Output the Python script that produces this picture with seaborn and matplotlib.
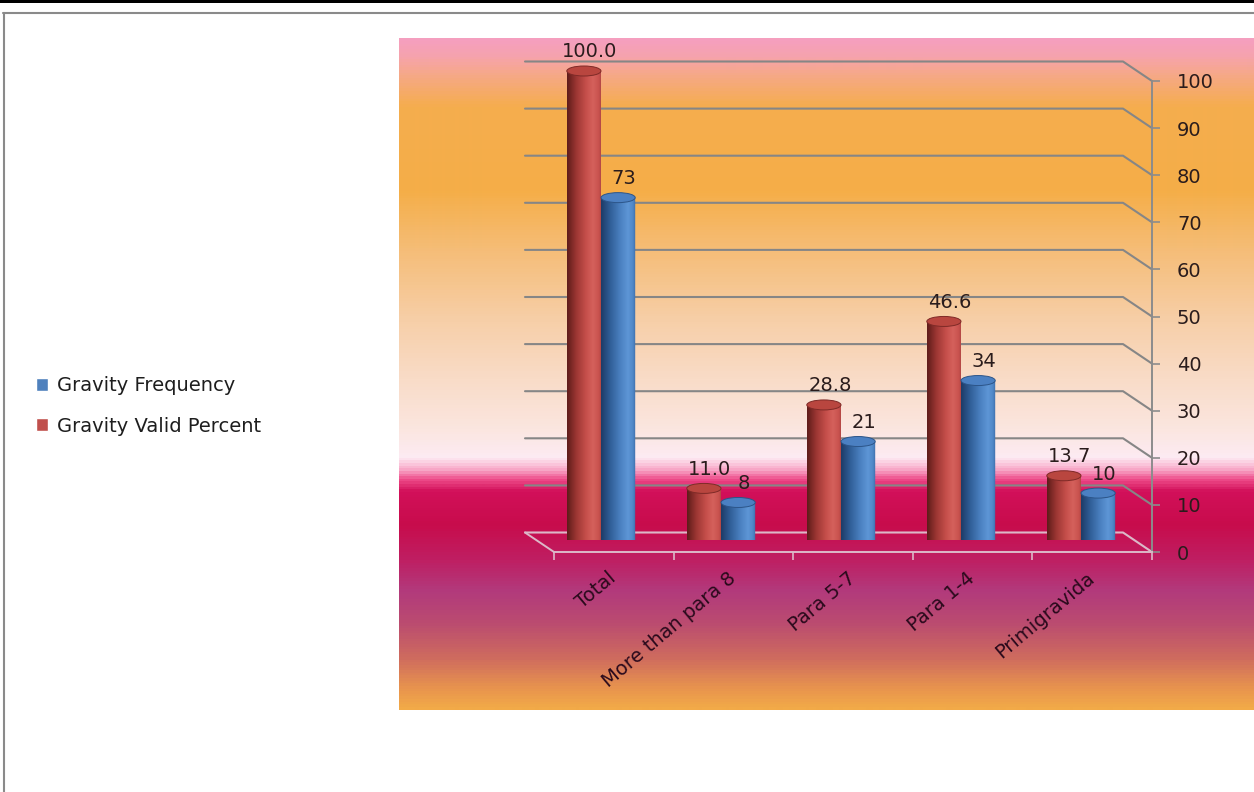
import matplotlib
matplotlib.use("Agg")
import numpy as np
import pandas as pd
import matplotlib.pyplot as plt
import seaborn as sns
from matplotlib.colors import LinearSegmentedColormap
from matplotlib.patches import Ellipse, PathPatch, Patch, Rectangle
from matplotlib.path import Path
from matplotlib.lines import Line2D

# ---- data ----
categories = ["Total", "More than para 8", "Para 5-7", "Para 1-4", "Primigravida"]
valid_percent = [100.0, 11.0, 28.8, 46.6, 13.7]
frequency = [73, 8, 21, 34, 10]
series = ["Gravity Valid Percent", "Gravity Frequency"]
legend_order = ["Gravity Frequency", "Gravity Valid Percent"]
y_ticks = [0, 10, 20, 30, 40, 50, 60, 70, 80, 90, 100]

RED = "#c0504d"
BLUE = "#4f81bd"
TEXT = "#2a1c1c"

sns.set_theme(style="white")
plt.rcParams["font.family"] = ["DejaVu Sans"]

W, H = 1254, 792
fig = plt.figure(figsize=(W / 100, H / 100), dpi=100)
fig.patch.set_facecolor("white")


def box(x0, y0, x1, y1, z):
    """Axes placed by pixel box (y measured from the top)."""
    ax = fig.add_axes([x0 / W, 1 - y1 / H, (x1 - x0) / W, (y1 - y0) / H])
    ax.set_zorder(z)
    ax.patch.set_alpha(0)
    return ax


# ---- page frame ----
fig.add_artist(Rectangle((0, 1 - 3 / H), 1, 3 / H, transform=fig.transFigure,
                         color="black", lw=0))
fig.add_artist(Line2D([3 / W, 1], [1 - 12.5 / H] * 2, transform=fig.transFigure,
                      color="#8a8a8a", lw=1.5))
fig.add_artist(Line2D([3.5 / W] * 2, [0, 1 - 12.5 / H], transform=fig.transFigure,
                      color="#8a8a8a", lw=1.5))

# ---- gradient plot area ----
bg = box(399, 38, 1254, 710, 0)
stops = [
    (38, "#f59fbf"), (54, "#f6a3ae"), (72, "#f6a88a"), (105, "#f5ad4e"),
    (190, "#f5ae48"), (250, "#f5bd78"), (320, "#f7cfa8"), (380, "#f9dcc8"),
    (430, "#fbe6e0"), (458, "#fdebf3"), (470, "#f8a8c8"), (480, "#ee4c8a"),
    (492, "#d2105a"), (525, "#c80c4c"), (560, "#bf1e62"), (592, "#b23a7c"),
    (625, "#bb4c70"), (660, "#cf6c5e"), (690, "#e8944e"), (710, "#f2aa48"),
]
panel_cmap = LinearSegmentedColormap.from_list(
    "panel", [((y - 38) / 672, c) for y, c in stops])
bg.imshow(np.linspace(0, 1, 672)[:, None], aspect="auto", cmap=panel_cmap,
          interpolation="bilinear")
bg.axis("off")

# ---- back wall with gridlines ----
wall = box(525, 61.5, 1123, 532.5, 1)
wall.set_xlim(0, 1)
wall.set_ylim(0, 100)
wall.axis("off")

# ---- front plane: value axis on the right, category axis on the floor edge ----
front = box(554, 81, 1152, 552, 2)
front.set_xlim(-0.5, 4.5)
front.set_ylim(0, 100)

GRID = "#868686"
FLOOR = "#dcb8c8"


def to_wall(ax, pt):
    return wall.transData.inverted().transform(ax.transData.transform(pt))


for v in y_ticks:
    fx, fy = to_wall(front, (4.5, v))
    col = FLOOR if v == 0 else GRID
    wall.plot([0, 1, fx], [v, v, fy], color=col, lw=1.5, clip_on=False,
              solid_joinstyle="round")

# floor: left edge between back wall and front edge
flx, fly = to_wall(front, (-0.5, 0))
wall.plot([0, flx], [0, fly], color=FLOOR, lw=1.4, clip_on=False)

for side in ["left", "top"]:
    front.spines[side].set_visible(False)
front.spines["right"].set_color("#8c8c8c")
front.spines["right"].set_linewidth(1.4)
front.spines["bottom"].set_color(FLOOR)
front.spines["bottom"].set_linewidth(1.4)
front.yaxis.tick_right()
front.set_yticks(y_ticks)
front.set_yticklabels([str(t) for t in y_ticks])
front.tick_params(axis="y", which="both", direction="out", length=6, width=1.2,
                  color="#8c8c8c", labelsize=14, labelcolor=TEXT, pad=12,
                  left=False, right=True)
front.set_xticks(range(len(categories)))
front.set_xticklabels(categories, rotation=40, ha="right", va="center",
                      rotation_mode="anchor", fontsize=14, color="#2a0a1c")
front.set_xticks(np.arange(-0.5, len(categories), 1.0), minor=True)
front.tick_params(axis="x", which="major", length=0, pad=17)
front.tick_params(axis="x", which="minor", direction="out", length=6, width=1.2,
                  color=FLOOR, bottom=True)
front.grid(False)

# ---- cylinders ----
bars = box(541, 71, 1141, 540, 3)
df = pd.DataFrame({
    "category": categories * 2,
    "series": [series[0]] * len(categories) + [series[1]] * len(categories),
    "value": valid_percent + frequency,
})
sns.barplot(data=df, x="category", y="value", hue="series", order=categories,
            hue_order=series, palette=[RED, BLUE], width=0.57, saturation=1,
            linewidth=0, edgecolor="none", ax=bars, legend=False)
bars.set_xlim(-0.5, 4.5)
bars.set_ylim(0, 100)
bars.axis("off")

red_shade = LinearSegmentedColormap.from_list("red_shade", [
    (0, "#5e1c1a"), (0.25, "#9a3532"), (0.55, "#c64f4b"), (0.75, "#d5615c"),
    (0.92, "#c8524e"), (1, "#a84240")])
blue_shade = LinearSegmentedColormap.from_list("blue_shade", [
    (0, "#1e3c68"), (0.25, "#2f5d96"), (0.55, "#4a80c0"), (0.78, "#5e96d6"),
    (0.92, "#5088c8"), (1, "#3d6ca8")])

px_per_unit = (540 - 71) / 100
cap_h = 10 / px_per_unit
theta = np.linspace(np.pi, 2 * np.pi, 48)
styles = [
    (valid_percent, red_shade, "#b9463f", "#7e2a27", "{:.1f}"),
    (frequency, blue_shade, "#4b80c2", "#2c5589", "{:.0f}"),
]
for container, (vals, shade, cap_fc, cap_ec, fmt) in zip(bars.containers, styles):
    for patch, v in zip(container.patches, vals):
        x0, w, h = patch.get_x(), patch.get_width(), patch.get_height()
        xc = x0 + w / 2
        arc = list(zip(xc + (w / 2) * np.cos(theta), (cap_h / 2) * np.sin(theta)))
        verts = [(x0, h)] + arc + [(x0 + w, h), (x0, h)]
        body = PathPatch(Path(verts, closed=True), transform=bars.transData,
                         fc="none", ec="none")
        bars.add_patch(body)
        im = bars.imshow(np.linspace(0, 1, 64)[None, :], cmap=shade, aspect="auto",
                         extent=(x0, x0 + w, -cap_h / 2, h), interpolation="bicubic",
                         zorder=3)
        im.set_clip_path(body)
        im.set_clip_box(None)
        bars.add_patch(Ellipse((xc, h), w, cap_h, fc=cap_fc, ec=cap_ec, lw=0.7,
                               zorder=4, clip_on=False))
        bars.annotate(fmt.format(v), (xc, h), xytext=(6, 19),
                      textcoords="offset pixels", ha="center", va="center",
                      fontsize=14, color=TEXT, annotation_clip=False, zorder=5)
bars.set_xlim(-0.5, 4.5)
bars.set_ylim(0, 100)

# ---- legend ----
fig.legend(handles=[Patch(fc=BLUE), Patch(fc=RED)], labels=legend_order,
           loc="center left", bbox_to_anchor=(18 / W, 1 - 406 / H), frameon=False,
           fontsize=14, handlelength=0.65, handleheight=0.65, handletextpad=0.45,
           labelspacing=1.1, labelcolor="#1e1e1e")

fig.savefig("out.png", dpi=100)
